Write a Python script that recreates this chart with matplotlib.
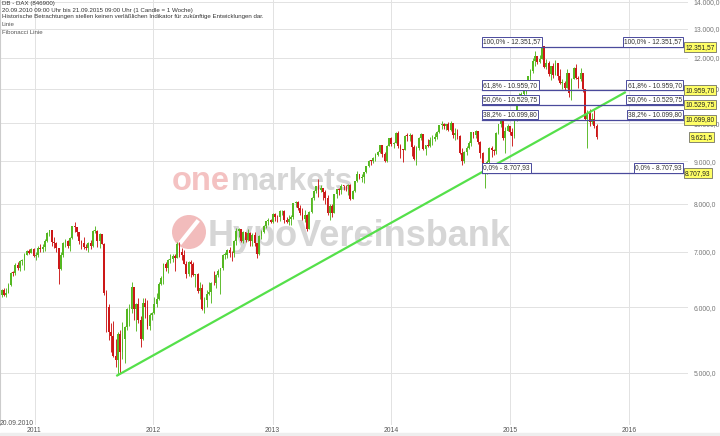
import matplotlib.pyplot as plt
import matplotlib.dates as mdates
from matplotlib.patches import Circle, Rectangle
from matplotlib.ticker import FixedLocator, NullLocator
import numpy as np
import pandas as pd

plt.rcParams['font.family'] = ['Liberation Sans', 'DejaVu Sans']

# weekly candles, DAX, 20.09.2010 - 21.09.2015
first_open = 6210
closes = [
    # 2010
    6299, 6211, 6250, 6383, 6605, 6601, 6750, 6700, 6822, 6849, 6947, 7006, 6983, 7057, 6914,
    # 2011
    6947, 7075, 7062, 7102, 7216, 7371, 7426, 7185, 7178, 7064, 6664, 6946, 7180,
    7217, 7112, 7269, 7514, 7492, 7393, 7204, 7165, 7095, 7069, 7164, 7121, 7419,
    7419, 7220, 7345, 7159, 6236, 5997, 5603, 5537, 5246, 5190, 5574, 5294, 5502,
    5676, 5967, 5971, 6346, 5966, 6057, 5800, 5493, 6080, 6000, 5701, 5878, 5898,
    # 2012
    6058, 6143, 6404, 6512, 6766, 6692, 6849, 6865, 6921, 6880, 7157, 6996, 6947,
    6775, 6583, 6801, 6762, 6561, 6579, 6271, 6339, 5978, 6130, 6229, 6263, 6416,
    6410, 6557, 6630, 6689, 6944, 6945, 7040, 6971, 6970, 7214, 7412, 7451, 7216,
    7398, 7233, 7380, 7203, 7335, 7163, 6950, 7309, 7405, 7518, 7614, 7636, 7612, 7776,
    # 2013
    7715, 7702, 7833, 7833, 7652, 7593, 7661, 7708, 8004, 8043, 7913, 7795,
    7662, 7744, 7459, 7815, 8123, 8279, 8398, 8305, 8349, 8254, 8127, 7789, 7959,
    7806, 8212, 8331, 8298, 8410, 8406, 8391, 8416, 8103, 8276, 8510, 8675, 8594, 8622,
    8725, 8870, 9011, 9009, 9078, 9168, 9225, 9405, 9172, 9006, 9400, 9589, 9435,
    # 2014
    9473, 9742, 9392, 9306, 9289, 9663, 9657, 9692, 9350, 9056, 9342, 9588, 9695,
    9315, 9409, 9401, 9556, 9581, 9630, 9768, 9943, 9987, 9912, 9987, 9815, 10009,
    9666, 9720, 9644, 9210, 9010, 9225, 9339, 9470, 9747, 9691, 9799, 9490, 9195,
    8788, 8850, 8988, 9326, 9291, 9252, 9732, 9980, 10087, 9594, 9787, 9927, 9765,
    # 2015
    9648, 10168, 10649, 10694, 10846, 10963, 11050, 11402, 11551, 11901, 12039, 11868, 11967,
    12375, 11689, 11811, 11454, 11709, 11447, 11815, 11413, 11197, 11197, 11041, 11492, 10890,
    11315, 11673, 11347, 11309, 11490, 10985, 10125, 10298, 10038, 10123, 9916, 9621.5,
]
highs = [
    6310, 6330, 6330, 6420, 6610, 6630, 6790, 6800, 6840, 6860, 6970, 7040, 7060, 7070, 7070,
    7000, 7110, 7150, 7160, 7250, 7390, 7440, 7430, 7290, 7200, 7070, 6990, 7200,
    7250, 7240, 7290, 7520, 7600, 7500, 7400, 7240, 7300, 7160, 7200, 7230, 7430,
    7520, 7440, 7370, 7360, 7180, 6300, 6060, 5740, 5780, 5500, 5600, 5640, 5760,
    5700, 5990, 6050, 6430, 6350, 6080, 6160, 5860, 6150, 6150, 6120, 5900, 5920,
    6180, 6250, 6440, 6550, 6780, 6810, 6870, 6950, 6960, 6950, 7190, 7190, 7080,
    7040, 6830, 6820, 6840, 6810, 6590, 6600, 6430, 6400, 6180, 6300, 6440, 6430,
    6640, 6580, 6680, 6700, 6950, 6990, 7050, 7090, 7010, 7240, 7480, 7480, 7460,
    7410, 7400, 7460, 7390, 7380, 7400, 7180, 7330, 7440, 7540, 7630, 7680, 7660, 7790,
    7790, 7750, 7860, 7870, 7850, 7710, 7760, 7760, 8010, 8060, 8050, 7980,
    7900, 7850, 7780, 7830, 8140, 8300, 8400, 8560, 8420, 8360, 8300, 8190, 8000,
    7990, 8220, 8340, 8360, 8450, 8430, 8420, 8440, 8450, 8300, 8520, 8770, 8690, 8680,
    8740, 8890, 9030, 9040, 9100, 9200, 9260, 9420, 9410, 9230, 9410, 9600, 9620,
    9500, 9760, 9790, 9440, 9310, 9670, 9720, 9720, 9700, 9410, 9380, 9620, 9720,
    9700, 9420, 9560, 9620, 9690, 9740, 9800, 9960, 10050, 10000, 9990, 10030, 10050,
    10010, 9880, 9830, 9680, 9330, 9260, 9380, 9530, 9760, 9770, 9820, 9800, 9520,
    9230, 8860, 9030, 9360, 9380, 9320, 9750, 9990, 10090, 10090, 9900, 9970, 9930,
    9880, 10200, 10670, 10880, 10920, 10970, 11100, 11410, 11630, 11970, 12220, 12050, 12090,
    12390, 12380, 11950, 11890, 11720, 11830, 11920, 11830, 11620, 11310, 11250, 11620, 11500,
    11330, 11680, 11800, 11390, 11670, 11500, 11000, 10380, 10400, 10300, 10370, 9990,
]
lows = [
    6170, 6190, 6180, 6240, 6370, 6540, 6570, 6660, 6630, 6740, 6650, 6940, 6950, 6980, 6900,
    6850, 6900, 7000, 7000, 7020, 7200, 7320, 7110, 7080, 7000, 6400, 6660, 6900,
    7100, 7070, 7020, 7260, 7400, 7310, 7150, 7050, 7060, 7030, 7000, 7060, 7100,
    7380, 7100, 7080, 7150, 6200, 5600, 5480, 5300, 5230, 5080, 4966, 5000, 5200,
    5140, 5640, 5700, 5900, 5800, 5620, 5750, 5370, 5480, 5830, 5650, 5640, 5800,
    5890, 6000, 6120, 6380, 6400, 6640, 6600, 6780, 6800, 6630, 6880, 6900, 6850,
    6760, 6500, 6540, 6530, 6540, 6350, 6250, 6140, 5960, 5910, 6000, 6200, 6080,
    6380, 6330, 6530, 6220, 6650, 6860, 6880, 6900, 6830, 6900, 7140, 7300, 7190,
    7180, 7190, 7220, 7120, 7110, 7110, 6880, 6940, 7260, 7380, 7470, 7550, 7580, 7580,
    7630, 7600, 7620, 7760, 7590, 7580, 7530, 7530, 7660, 7930, 7870, 7760,
    7640, 7600, 7420, 7460, 7790, 8090, 8250, 8150, 8270, 8090, 8000, 7760, 7650,
    7700, 7800, 8130, 8200, 8210, 8300, 8280, 8190, 8080, 8100, 8270, 8500, 8560, 8500,
    8480, 8700, 8850, 8910, 8960, 9000, 9120, 9200, 9100, 8990, 8990, 9380, 9400,
    9340, 9460, 9340, 9080, 8990, 9280, 9520, 9510, 9140, 9030, 8900, 9290, 9540,
    9280, 9150, 9350, 9360, 9410, 9510, 9580, 9740, 9840, 9830, 9810, 9780, 9800,
    9600, 9550, 9560, 9190, 8900, 8950, 9160, 9310, 9400, 9610, 9600, 9430, 9090,
    8750, 8355, 8690, 8800, 9100, 9150, 9180, 9700, 9890, 9550, 9220, 9780, 9680,
    9380, 9600, 10060, 10540, 10630, 10670, 10860, 11050, 11270, 11490, 11720, 11800, 11830,
    11960, 11650, 11640, 11400, 11290, 11350, 11430, 11290, 11150, 10990, 10960, 11030, 10750,
    10680, 11300, 11300, 11030, 11250, 10900, 10100, 9338, 9920, 9990, 9870, 9560,
]

fib_pcts = ['100,0%', '61,8%', '50,0%', '38,2%', '0,0%']
fib_levels = [12351.57, 10959.70, 10529.75, 10099.80, 8707.93]
fib_labels = ['12.351,57', '10.959,70', '10.529,75', '10.099,80', '8.707,93']
fib_start, fib_end = '2014-10-06', '2016-06-15'
last_price = 9621.5
last_label = '9.621,5'
trend_dates = ['2011-09-12', '2015-12-19']
trend_values = [4966, 10890]
y_ticks = [5000, 6000, 7000, 8000, 9000, 10000, 11000, 12000, 13000, 14000]
y_ticklabels = ['5.000,0', '6.000,0', '7.000,0', '8.000,0', '9.000,0',
                '10.000,0', '11.000,0', '12.000,0', '13.000,0', '14.000,0']
years = ['2011', '2012', '2013', '2014', '2015', '2016']

closes = np.array(closes, dtype=float)
opens = np.concatenate([[first_open], closes[:-1]])
highs = np.maximum(np.array(highs, dtype=float), np.maximum(opens, closes))
lows = np.minimum(np.array(lows, dtype=float), np.minimum(opens, closes))
weeks = pd.date_range('2010-09-20', periods=len(closes), freq='W-MON') + pd.Timedelta(days=2)
x = mdates.date2num(weeks)

W, H = 720, 436
fig = plt.figure(figsize=(7.2, 4.36), dpi=100)
ax = fig.add_axes([0, 11 / H, 688 / W, 425 / H])

up = closes >= opens
colors = np.where(up, '#55b822', '#cc1818')
ax.vlines(x, lows, highs, colors=colors, lw=0.65, zorder=2)
body = np.maximum(np.abs(closes - opens), 10)
ax.bar(x, body, bottom=np.minimum(opens, closes), width=5.5, color=colors, lw=0, zorder=3)

# trend line
ax.plot(mdates.datestr2num(trend_dates), trend_values, color='#55e04a', lw=1.6, zorder=4)

# fibonacci lines
fx0, fx1 = mdates.datestr2num(fib_start), mdates.datestr2num(fib_end)
navy = '#4a4a9c'
for pct, lvl, lab in zip(fib_pcts, fib_levels, fib_labels):
    ax.plot([fx0, fx1], [lvl, lvl], color=navy, lw=0.9, zorder=5)
    txt = pct + ' - ' + lab
    box = dict(boxstyle='square,pad=0.2', fc='white', ec=navy, lw=0.7)
    ax.annotate(txt, xy=(fx0, lvl), xytext=(1, 1.2), textcoords='offset points',
                ha='left', va='bottom', fontsize=4.8, color='#333333', bbox=box, zorder=6)
    ax.annotate(txt, xy=(fx1, lvl), xytext=(-1, 1.2), textcoords='offset points',
                ha='right', va='bottom', fontsize=4.8, color='#333333', bbox=box, zorder=6)
    ax.annotate(lab, xy=(fx1, lvl), xytext=(1.5, 0), textcoords='offset points',
                ha='left', va='center', fontsize=4.8, color='#222222', annotation_clip=False,
                bbox=dict(boxstyle='square,pad=0.2', fc='#ffff66', ec='#555555', lw=0.5), zorder=7)

ax.annotate(last_label, xy=(1.0, last_price), xycoords=ax.get_yaxis_transform(),
            xytext=(2, 0), textcoords='offset points', ha='left', va='center',
            fontsize=4.8, color='#222222', annotation_clip=False,
            bbox=dict(boxstyle='square,pad=0.2', fc='#ffff66', ec='#555555', lw=0.5), zorder=7)

# watermark
wm = dict(transform=fig.transFigure, va='baseline', ha='left', fontweight='bold', zorder=0.6)
ax.text(172 / W, 1 - 190 / H, 'one', fontsize=23.5, color='#f4c2c2', **wm)
ax.text(231 / W, 1 - 190 / H, 'markets', fontsize=23, color='#d6d6d6', **wm)
ax.text(208 / W, 1 - 246 / H, 'HypoVereinsbank', fontsize=26, color='#d6d6d6', **wm)
ax.add_patch(Circle((1.89, (H - 232) / 100), 0.17, transform=fig.dpi_scale_trans,
                    fc='#f2bcbc', ec='none', zorder=0.6))
ax.plot([1.97, 1.81], [(H - 222) / 100, (H - 242) / 100], transform=fig.dpi_scale_trans,
        color='white', lw=3, zorder=0.7)

# axes styling
ax.set_yscale('log')
ax.set_ylim(4328, 14079)
ax.set_xlim(mdates.datestr2num('2010-09-17'), mdates.datestr2num('2016-06-30'))
ax.yaxis.set_major_locator(FixedLocator(y_ticks))
ax.yaxis.set_minor_locator(NullLocator())
ax.set_yticklabels(y_ticklabels)
ax.yaxis.tick_right()
ax.set_xticks(mdates.datestr2num([y + '-01-01' for y in years]))
ax.set_xticklabels(years)
ax.tick_params(axis='y', length=0, pad=4, labelsize=4.9, labelcolor='#777777')
ax.tick_params(axis='x', length=0, pad=1.5, labelsize=4.9, labelcolor='#555555')
ax.grid(True, color='#e2e2e2', lw=0.7)
ax.set_axisbelow(True)
for s in ['top', 'right', 'bottom']:
    ax.spines[s].set_visible(False)
ax.spines['left'].set_color('#cccccc')

# header
header = ['DB - DAX (846900)',
          '20.09.2010 09:00 Uhr bis 21.09.2015 09:00 Uhr (1 Candle = 1 Woche)',
          'Historische Betrachtungen stellen keinen verläßlichen Indikator für zukünftige Entwicklungen dar.']
for txt, yy in zip(header, [4, 10.5, 16.5]):
    fig.text(2 / W, 1 - yy / H, txt, fontsize=4.4, color='#333333', va='center')
fig.text(2 / W, 1 - 25 / H, 'Linie', fontsize=4.4, color='#555555', va='center')
fig.text(2 / W, 1 - 33 / H, 'Fibonacci Linie', fontsize=4.4, color='#555555', va='center')
fig.text(0, 1 - 423 / H, '20.09.2010', fontsize=4.9, color='#555555', va='center')
fig.add_artist(Rectangle((0, 0), 1, 3 / H, transform=fig.transFigure, color='#eeeeee'))

fig.savefig('out.png', dpi=100)
